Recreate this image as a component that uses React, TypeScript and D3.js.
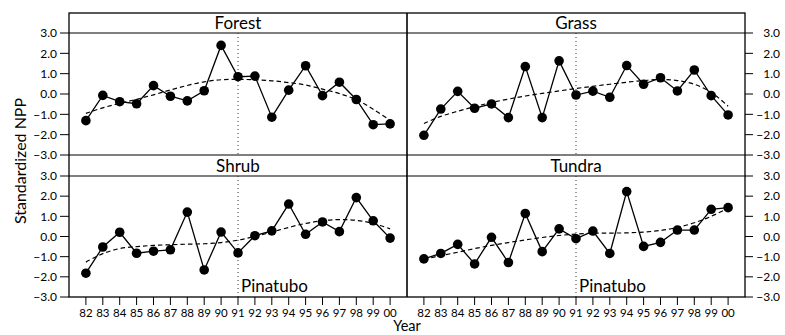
import React from "react";
import * as d3 from "d3";

// Years of the record (1982–2000)
const years = [
  1982, 1983, 1984, 1985, 1986, 1987, 1988, 1989, 1990, 1991,
  1992, 1993, 1994, 1995, 1996, 1997, 1998, 1999, 2000,
];

// Standardized NPP anomalies per biome
const forestNpp = [-1.31, -0.07, -0.38, -0.48, 0.41, -0.11, -0.34, 0.16, 2.39, 0.85, 0.88, -1.14, 0.19, 1.39, -0.08, 0.58, -0.27, -1.51, -1.47];
const grassNpp = [-2.03, -0.74, 0.13, -0.7, -0.49, -1.16, 1.35, -1.16, 1.63, -0.05, 0.14, -0.16, 1.4, 0.48, 0.8, 0.15, 1.18, -0.08, -1.03];
const shrubNpp = [-1.82, -0.52, 0.21, -0.83, -0.73, -0.66, 1.21, -1.66, 0.22, -0.81, 0.04, 0.28, 1.61, 0.11, 0.72, 0.24, 1.93, 0.78, -0.08];
const tundraNpp = [-1.11, -0.84, -0.39, -1.36, -0.04, -1.29, 1.14, -0.75, 0.38, -0.11, 0.27, -0.84, 2.23, -0.49, -0.29, 0.32, 0.32, 1.35, 1.43];

// Fitted trend curves per biome
const forestTrend = [-0.95, -0.68, -0.46, -0.26, -0.04, 0.2, 0.42, 0.6, 0.7, 0.72, 0.7, 0.65, 0.56, 0.44, 0.24, 0.02, -0.28, -0.75, -1.3];
const grassTrend = [-1.45, -1.1, -0.85, -0.62, -0.42, -0.25, -0.1, 0.03, 0.15, 0.27, 0.38, 0.48, 0.58, 0.66, 0.71, 0.66, 0.48, 0.08, -0.6];
const shrubTrend = [-1.27, -0.85, -0.6, -0.5, -0.44, -0.41, -0.38, -0.36, -0.3, -0.18, 0.0, 0.22, 0.45, 0.65, 0.78, 0.84, 0.8, 0.65, 0.38];
const tundraTrend = [-1.12, -0.95, -0.78, -0.6, -0.44, -0.3, -0.17, -0.05, 0.05, 0.12, 0.16, 0.17, 0.18, 0.22, 0.3, 0.45, 0.68, 1.0, 1.4];

const biomeNames = ["Forest", "Grass", "Shrub", "Tundra"];
const yTicks = [3, 2, 1, 0, -1, -2, -3];
const eruptionYear = 1991;
const eruptionLabel = "Pinatubo";
const xTitle = "Year";
const yTitle = "Standardized NPP";

const W = 785;
const H = 335;
const FONT = "Lato, 'Open Sans', sans-serif";
const INK = "#000";

const columns: [number, number][] = [
  [69, 407],
  [407, 745],
];
const rows = [
  { strip: 13, top: 33, bottom: 155 },
  { strip: 155, top: 176, bottom: 297 },
];

const panels = [
  { name: biomeNames[0], npp: forestNpp, trend: forestTrend, col: 0, row: 0 },
  { name: biomeNames[1], npp: grassNpp, trend: grassTrend, col: 1, row: 0 },
  { name: biomeNames[2], npp: shrubNpp, trend: shrubTrend, col: 0, row: 1 },
  { name: biomeNames[3], npp: tundraNpp, trend: tundraTrend, col: 1, row: 1 },
];

const fmtY = (d: number) => (d < 0 ? "\u2212" : "") + Math.abs(d).toFixed(1);
const fmtYear = (d: number) => String(d % 100).padStart(2, "0");

function Panel({ p }: { p: (typeof panels)[number] }) {
  const [x0, x1] = columns[p.col];
  const r = rows[p.row];
  const x = d3.scaleLinear().domain([1981, 2001]).range([x0, x1]);
  const y = d3.scaleLinear().domain([-3, 3]).range([r.bottom, r.top]);
  const pts = years.map((yr, i) => [x(yr), y(p.npp[i])] as [number, number]);
  const trendPts = years.map((yr, i) => [x(yr), y(p.trend[i])] as [number, number]);
  const solid = d3.line()(pts) || "";
  const dashed = d3.line().curve(d3.curveCatmullRom.alpha(0.5))(trendPts) || "";
  const xe = x(eruptionYear);
  return (
    <g>
      {/* strip with biome name */}
      <text
        x={(x0 + x1) / 2}
        y={r.strip + (r.top - r.strip) / 2 + 6}
        textAnchor="middle"
        fontSize={17}
        fontFamily={FONT}
        fill={INK}
      >
        {p.name}
      </text>
      <line x1={x0} x2={x1} y1={r.top} y2={r.top} stroke={INK} strokeWidth={1.2} />
      {/* eruption marker */}
      <line x1={xe} x2={xe} y1={r.top} y2={r.bottom} stroke="#333" strokeWidth={1} strokeDasharray="1,3" />
      {p.row === 1 && (
        <text x={xe + 3} y={r.bottom - 5} fontSize={17} fontFamily={FONT} fill={INK}>
          {eruptionLabel}
        </text>
      )}
      <path d={dashed} fill="none" stroke={INK} strokeWidth={1.2} strokeDasharray="4.5,3" />
      <path d={solid} fill="none" stroke={INK} strokeWidth={1.3} />
      {pts.map(([cx, cy], i) => (
        <circle key={i} cx={cx} cy={cy} r={4.8} fill={INK} />
      ))}
      {/* y axis on outer side */}
      {yTicks.map((t) => {
        const ty = y(t);
        if (p.col === 0) {
          return (
            <g key={t}>
              <line x1={x0 - 9} x2={x0} y1={ty} y2={ty} stroke={INK} strokeWidth={1} />
              <text x={x0 - 12} y={ty} dy="0.35em" textAnchor="end" fontSize={12} fontFamily={FONT} fill={INK}>
                {fmtY(t)}
              </text>
            </g>
          );
        }
        return (
          <g key={t}>
            <line x1={x1} x2={x1 + 8} y1={ty} y2={ty} stroke={INK} strokeWidth={1} />
            <text x={W - 5} y={ty} dy="0.35em" textAnchor="end" fontSize={12} fontFamily={FONT} fill={INK}>
              {fmtY(t)}
            </text>
          </g>
        );
      })}
      {/* x axis at bottom row */}
      {p.row === 1 &&
        years.map((yr) => (
          <g key={yr}>
            <line x1={x(yr)} x2={x(yr)} y1={r.bottom} y2={r.bottom + 8} stroke={INK} strokeWidth={1} />
            <text x={x(yr)} y={316.5} textAnchor="middle" fontSize={11.5} fontFamily={FONT} fill={INK}>
              {fmtYear(yr)}
            </text>
          </g>
        ))}
    </g>
  );
}

export default function App() {
  const top = rows[0].strip;
  const bottom = rows[1].bottom;
  const left = columns[0][0];
  const right = columns[1][1];
  const mid = columns[0][1];
  return (
    <svg
      width={W}
      height={H}
      viewBox={`0 0 ${W} ${H}`}
      style={{ position: "absolute", left: 0, top: 0, background: "#fff" }}
    >
      <rect x={0} y={0} width={W} height={H} fill="#fff" />
      {panels.map((p) => (
        <Panel key={p.name} p={p} />
      ))}
      {/* frame */}
      <rect x={left} y={top} width={right - left} height={bottom - top} fill="none" stroke={INK} strokeWidth={1.3} />
      <line x1={mid} x2={mid} y1={top} y2={bottom} stroke={INK} strokeWidth={1.6} />
      <line x1={left} x2={right} y1={rows[1].strip} y2={rows[1].strip} stroke={INK} strokeWidth={1.2} />
      <text x={mid} y={331} textAnchor="middle" fontSize={14.5} fontFamily={FONT} fill={INK}>
        {xTitle}
      </text>
      <text
        transform={`translate(26,${(top + bottom) / 2 + 6}) rotate(-90)`}
        textAnchor="middle"
        fontSize={16}
        fontFamily={FONT}
        fill={INK}
      >
        {yTitle}
      </text>
    </svg>
  );
}
